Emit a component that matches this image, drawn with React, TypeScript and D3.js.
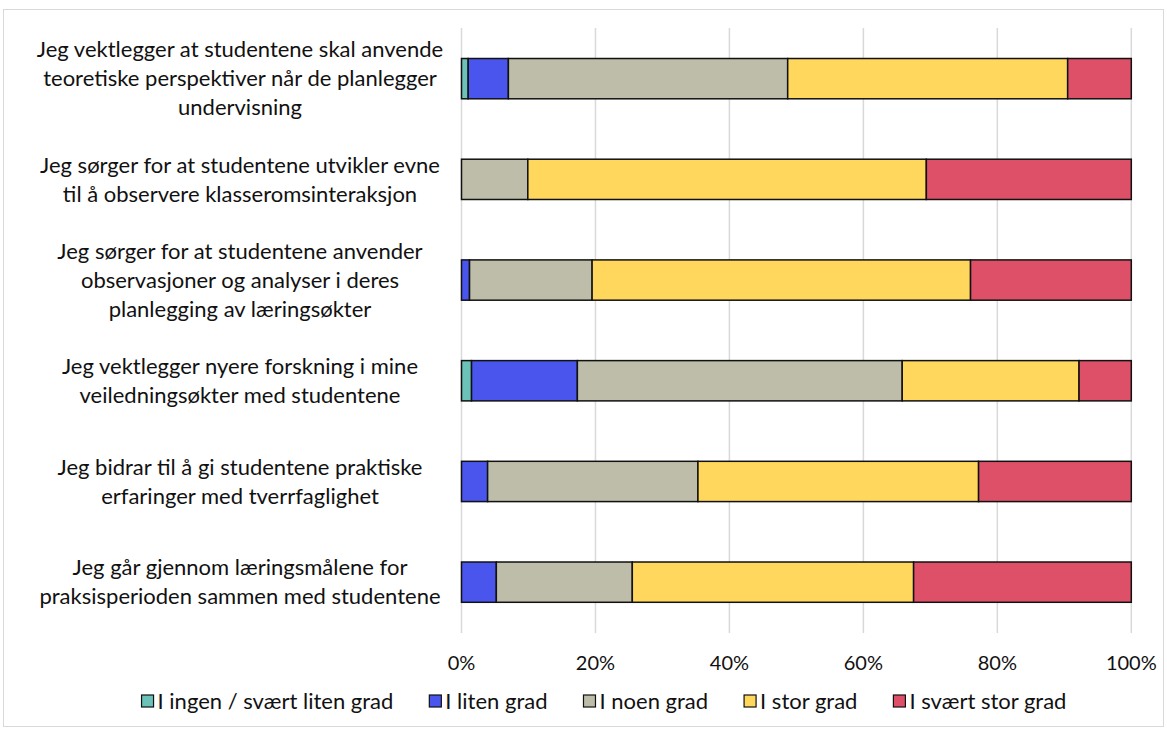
import React, { useRef, useEffect } from 'react';
import * as d3 from 'd3';

// statements (top to bottom), split into lines as in the original
const categories: string[][] = [
  ['Jeg vektlegger at studentene skal anvende', 'teoretiske perspektiver når de planlegger', 'undervisning'],
  ['Jeg sørger for at studentene utvikler evne', 'til å observere klasseromsinteraksjon'],
  ['Jeg sørger for at studentene anvender', 'observasjoner og analyser i deres', 'planlegging av læringsøkter'],
  ['Jeg vektlegger nyere forskning i mine', 'veiledningsøkter med studentene'],
  ['Jeg bidrar til å gi studentene praktiske', 'erfaringer med tverrfaglighet'],
  ['Jeg går gjennom læringsmålene for', 'praksisperioden sammen med studentene'],
];

const seriesNames = ['I ingen / svært liten grad', 'I liten grad', 'I noen grad', 'I stor grad', 'I svært stor grad'];
const seriesColors = ['#6cc1b8', '#4a55ee', '#bdbda9', '#ffd75c', '#de5068'];

// percentages per series, same order as categories
const ingen = [1.0, 0, 0, 1.5, 0, 0];
const liten = [6.0, 0, 1.2, 15.8, 3.9, 5.2];
const noen = [41.7, 9.9, 18.3, 48.5, 31.4, 20.3];
const stor = [41.8, 59.5, 56.5, 26.4, 41.9, 42.0];
const sværtStor = [9.5, 30.6, 24.0, 7.8, 22.8, 32.5];

const xTicks = [0, 20, 40, 60, 80, 100];

const W = 1167;
const H = 729;
const FONT = 'Lato, "Open Sans", sans-serif';

export default function App() {
  const svgRef = useRef<SVGSVGElement | null>(null);

  useEffect(() => {
    if (!svgRef.current) return;
    const svg = d3.select(svgRef.current);
    svg.selectAll('*').remove();

    const x = d3.scaleLinear().domain([0, 100]).range([461.5, 1131.3]);
    const y = d3.scaleBand<number>()
      .domain(d3.range(categories.length))
      .range([28.3, 632.5])
      .paddingInner(0.6)
      .paddingOuter(0.3);

    // outer frame
    svg.append('rect')
      .attr('x', 3.5).attr('y', 9.5)
      .attr('width', W - 7).attr('height', H - 12)
      .attr('fill', 'none')
      .attr('stroke', '#d9d9d9')
      .attr('stroke-width', 1);

    // gridlines
    svg.append('g')
      .selectAll('line')
      .data(xTicks)
      .enter()
      .append('line')
      .attr('x1', d => x(d)).attr('x2', d => x(d))
      .attr('y1', 28).attr('y2', 633)
      .attr('stroke', '#d9d9d9')
      .attr('stroke-width', 1.5);

    // stacked data
    const series = [ingen, liten, noen, stor, sværtStor];
    const rows = categories.map((_, i) => {
      const r: Record<string, number> = {};
      seriesNames.forEach((s, k) => { r[s] = series[k][i]; });
      return r;
    });
    const stacked = d3.stack<Record<string, number>>().keys(seriesNames)(rows);

    stacked.forEach((layer, k) => {
      svg.append('g')
        .selectAll('rect')
        .data(layer.map((d, i) => ({ d, i })).filter(o => o.d[1] - o.d[0] > 0))
        .enter()
        .append('rect')
        .attr('x', o => x(o.d[0]))
        .attr('width', o => x(o.d[1]) - x(o.d[0]))
        .attr('y', o => y(o.i)!)
        .attr('height', y.bandwidth())
        .attr('fill', seriesColors[k])
        .attr('stroke', '#111')
        .attr('stroke-width', 1.5);
    });

    // category labels
    const lineH = 29;
    const labels = svg.append('g')
      .attr('font-family', FONT)
      .attr('font-size', 22)
      .attr('fill', '#111');
    categories.forEach((lines, i) => {
      const cy = y(i)! + y.bandwidth() / 2;
      const t = labels.append('text')
        .attr('text-anchor', 'middle');
      lines.forEach((ln, j) => {
        t.append('tspan')
          .attr('x', 240)
          .attr('y', cy + (j - (lines.length - 1) / 2) * lineH)
          .attr('dy', '0.35em')
          .text(ln);
      });
    });

    // x tick labels
    svg.append('g')
      .attr('font-family', FONT)
      .attr('font-size', 20)
      .attr('fill', '#111')
      .selectAll('text')
      .data(xTicks)
      .enter()
      .append('text')
      .attr('x', d => x(d))
      .attr('y', 663)
      .attr('dy', '0.35em')
      .attr('text-anchor', 'middle')
      .text(d => `${d}%`);

    // legend
    const legend = svg.append('g')
      .attr('font-family', FONT)
      .attr('font-size', 22)
      .attr('fill', '#111');
    const box = 12;
    const gapText = 4;
    const gapItem = 36;
    const items = seriesNames.map((name, k) => {
      const g = legend.append('g');
      g.append('rect')
        .attr('width', box).attr('height', box)
        .attr('y', -box / 2)
        .attr('fill', seriesColors[k])
        .attr('stroke', '#111')
        .attr('stroke-width', 1.2);
      const t = g.append('text')
        .attr('x', box + gapText)
        .attr('dy', '0.35em')
        .text(name);
      const w = box + gapText + (t.node() as SVGTextElement).getComputedTextLength();
      return { g, w };
    });
    const total = d3.sum(items, o => o.w) + gapItem * (items.length - 1);
    let cx = 604 - total / 2;
    items.forEach(o => {
      o.g.attr('transform', `translate(${cx},701)`);
      cx += o.w + gapItem;
    });
  }, []);

  return (
    <svg
      ref={svgRef}
      width={W}
      height={H}
      style={{ position: 'absolute', left: 0, top: 0, background: '#fff' }}
    />
  );
}
